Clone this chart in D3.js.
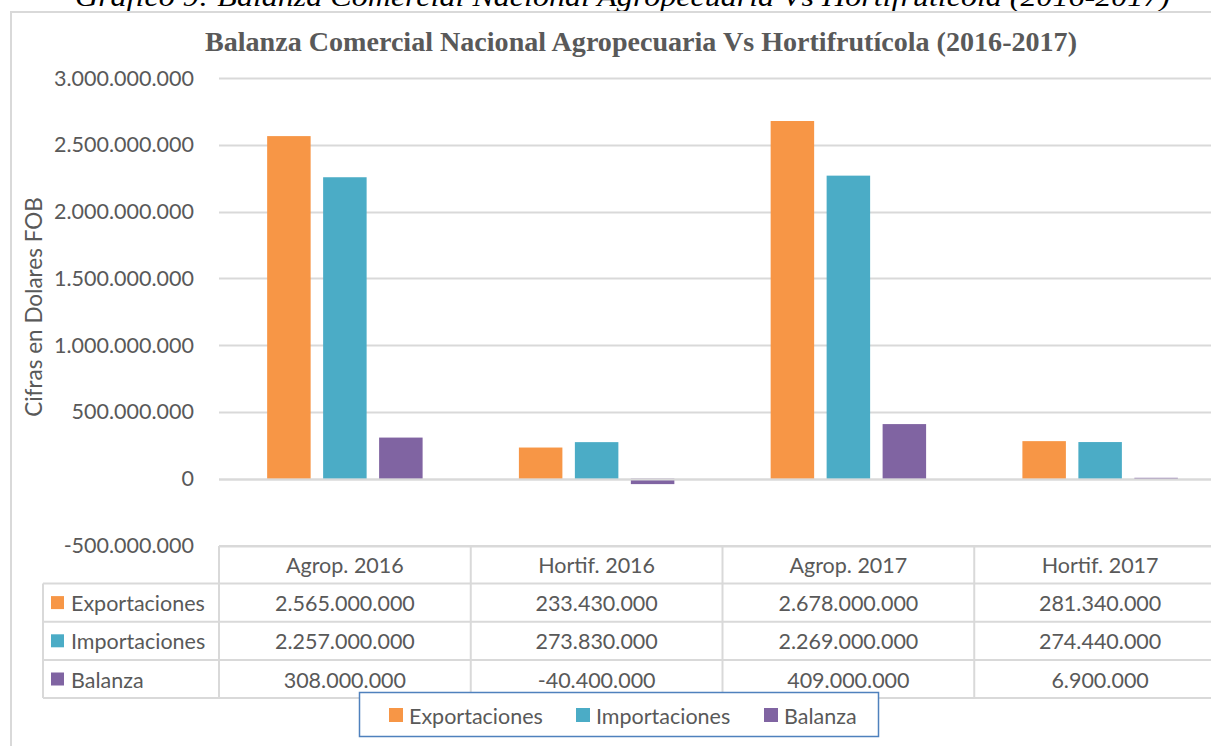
<!DOCTYPE html>
<html>
<head>
<meta charset="utf-8">
<script src="https://cdn.jsdelivr.net/npm/d3@7"></script>
<style>
  body { margin: 0; background: #fff; overflow: hidden; }
  svg { display: block; }
</style>
</head>
<body>
<script>
const categories = ['Agrop. 2016', 'Hortif. 2016', 'Agrop. 2017', 'Hortif. 2017'];
const seriesNames = ['Exportaciones', 'Importaciones', 'Balanza'];
const exportaciones = [2565000000, 233430000, 2678000000, 281340000];
const importaciones = [2257000000, 273830000, 2269000000, 274440000];
const balanza = [308000000, -40400000, 409000000, 6900000];
const yTicks = [-500000000, 0, 500000000, 1000000000, 1500000000, 2000000000, 2500000000, 3000000000];

const colors = ['#F79646', '#4BACC6', '#8064A2'];
const series = [exportaciones, importaciones, balanza];

const width = 1211, height = 746;
const font = "Lato, 'Open Sans', sans-serif";
const fontSize = '21.5px';
const textColor = '#595959';
const lineColor = '#D9D9D9';

const svg = d3.select('body').append('svg')
    .attr('width', width)
    .attr('height', height);

// caption, cut off at top of the page
svg.append('text')
    .attr('x', 75).attr('y', 6)
    .attr('textLength', 1095)
    .attr('lengthAdjust', 'spacingAndGlyphs')
    .style('font-family', "'Liberation Serif', serif")
    .style('font-style', 'italic')
    .style('font-size', '28px')
    .attr('fill', '#000')
    .text('Gráfico 9: Balanza Comercial Nacional Agropecuaria Vs Hortifrutícola (2016-2017)');

// chart area border
svg.append('path')
    .attr('d', `M11,${height} L11,12 L${width},12`)
    .attr('fill', 'none')
    .attr('stroke', lineColor)
    .attr('stroke-width', 2);

// title
svg.append('text')
    .attr('x', 205).attr('y', 51)
    .attr('textLength', 872)
    .attr('lengthAdjust', 'spacingAndGlyphs')
    .style('font-family', "'Liberation Serif', serif")
    .style('font-weight', 'bold')
    .style('font-size', '28px')
    .attr('fill', textColor)
    .text('Balanza Comercial Nacional Agropecuaria Vs Hortifrutícola (2016-2017)');

// scales
const x0 = d3.scaleBand()
    .domain(categories)
    .range([219, 1226])
    .padding(0);

const x1 = d3.scaleBand()
    .domain(seriesNames)
    .range([0, x0.bandwidth()])
    .paddingInner(0.223)
    .paddingOuter(0.86);

const y = d3.scaleLinear()
    .domain([-500000000, 3000000000])
    .range([545.5, 78]);

const fmt = v => d3.format(',')(v).replace(/,/g, '.').replace('\u2212', '-');

// gridlines
svg.append('g')
    .selectAll('line')
    .data(yTicks)
    .join('line')
    .attr('x1', 219).attr('x2', width)
    .attr('y1', d => Math.round(y(d)) + 0.5)
    .attr('y2', d => Math.round(y(d)) + 0.5)
    .attr('stroke', lineColor)
    .attr('stroke-width', 2);

// y axis labels
svg.append('g')
    .selectAll('text')
    .data(yTicks)
    .join('text')
    .attr('x', 194)
    .attr('y', d => y(d))
    .attr('dy', '0.35em')
    .attr('text-anchor', 'end')
    .style('font-family', font)
    .style('font-size', fontSize)
    .attr('fill', textColor)
    .text(d => fmt(d));

// y axis title
svg.append('text')
    .attr('transform', 'translate(42,307) rotate(-90)')
    .attr('text-anchor', 'middle')
    .style('font-family', font)
    .style('font-size', '22.5px')
    .attr('fill', textColor)
    .text('Cifras en Dolares FOB');

// bars
const groups = svg.append('g')
    .selectAll('g')
    .data(categories)
    .join('g')
    .attr('transform', d => `translate(${x0(d)},0)`);

groups.selectAll('rect')
    .data((c, i) => seriesNames.map((s, j) => ({ s, j, v: series[j][i] })))
    .join('rect')
    .attr('x', d => x1(d.s))
    .attr('width', x1.bandwidth())
    .attr('y', d => y(Math.max(0, d.v)))
    .attr('height', d => Math.abs(y(d.v) - y(0)))
    .attr('fill', d => colors[d.j]);

// zero line on top
svg.append('line')
    .attr('x1', 219).attr('x2', width)
    .attr('y1', Math.round(y(0)) + 0.5).attr('y2', Math.round(y(0)) + 0.5)
    .attr('stroke', lineColor)
    .attr('stroke-width', 2);

// data table
const rowTop = 546, headerH = 37.5, rowH = 38.2;
const leftCol = 43, firstCol = 219;
const table = svg.append('g')
    .attr('stroke', lineColor)
    .attr('stroke-width', 2)
    .attr('fill', 'none');

table.append('line')
    .attr('x1', firstCol).attr('x2', width)
    .attr('y1', rowTop).attr('y2', rowTop);
for (let r = 0; r <= seriesNames.length; r++) {
    const yy = rowTop + headerH + r * rowH;
    table.append('line')
        .attr('x1', leftCol).attr('x2', width)
        .attr('y1', yy).attr('y2', yy);
}
table.append('line')
    .attr('x1', leftCol).attr('x2', leftCol)
    .attr('y1', rowTop + headerH).attr('y2', rowTop + headerH + 3 * rowH);
categories.forEach(c => {
    table.append('line')
        .attr('x1', x0(c)).attr('x2', x0(c))
        .attr('y1', rowTop).attr('y2', rowTop + headerH + 3 * rowH);
});

// header labels
svg.append('g')
    .selectAll('text')
    .data(categories)
    .join('text')
    .attr('x', d => x0(d) + x0.bandwidth() / 2)
    .attr('y', rowTop + headerH / 2 + 1)
    .attr('dy', '0.35em')
    .attr('text-anchor', 'middle')
    .style('font-family', font)
    .style('font-size', fontSize)
    .attr('fill', textColor)
    .text(d => d);

// row labels with colour keys
const rows = svg.append('g')
    .selectAll('g')
    .data(seriesNames)
    .join('g')
    .attr('transform', (d, i) => `translate(0,${rowTop + headerH + i * rowH + rowH / 2})`);

rows.append('rect')
    .attr('x', 51).attr('y', -6.5)
    .attr('width', 13).attr('height', 13)
    .attr('fill', (d, i) => colors[i]);

rows.append('text')
    .attr('x', 71).attr('y', 1)
    .attr('dy', '0.35em')
    .style('font-family', font)
    .style('font-size', fontSize)
    .attr('fill', textColor)
    .text(d => d);

rows.selectAll('text.val')
    .data((d, i) => series[i].map((v, k) => ({ v, c: categories[k] })))
    .join('text')
    .attr('class', 'val')
    .attr('x', d => x0(d.c) + x0.bandwidth() / 2)
    .attr('y', 1)
    .attr('dy', '0.35em')
    .attr('text-anchor', 'middle')
    .style('font-family', font)
    .style('font-size', fontSize)
    .attr('fill', textColor)
    .text(d => fmt(d.v));

// legend
const legend = svg.append('g');
legend.append('rect')
    .attr('x', 359.5).attr('y', 692.5)
    .attr('width', 519).attr('height', 44)
    .attr('fill', '#fff')
    .attr('stroke', '#4F81BD')
    .attr('stroke-width', 1.5);

const legendX = [389, 576, 764];
const items = legend.selectAll('g')
    .data(seriesNames)
    .join('g')
    .attr('transform', (d, i) => `translate(${legendX[i]},715)`);

items.append('rect')
    .attr('x', 0).attr('y', -7)
    .attr('width', 14).attr('height', 14)
    .attr('fill', (d, i) => colors[i]);

items.append('text')
    .attr('x', 20).attr('y', 1)
    .attr('dy', '0.35em')
    .style('font-family', font)
    .style('font-size', fontSize)
    .attr('fill', textColor)
    .text(d => d);
</script>
</body>
</html>
